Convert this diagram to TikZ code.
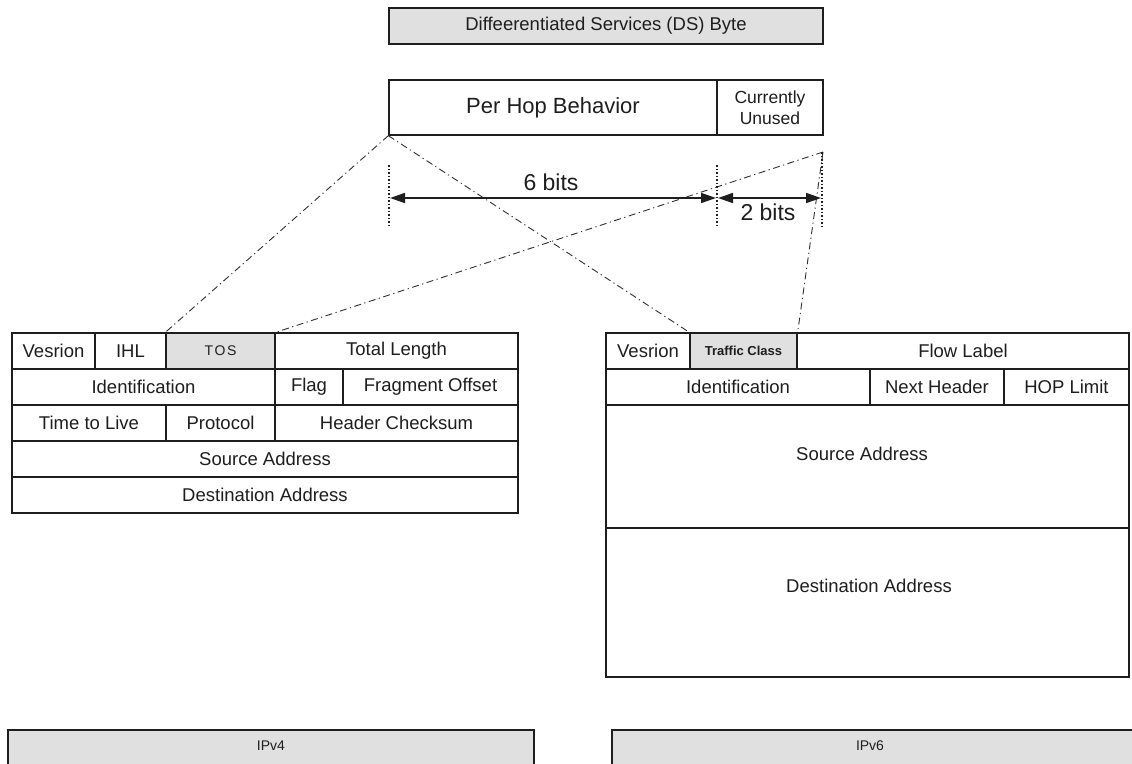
\documentclass[tikz,border=0pt]{standalone}
\usepackage{fontspec}
\setmainfont{Liberation Sans}
\usetikzlibrary{arrows.meta}
\definecolor{boxfill}{HTML}{DFE0DF}
\definecolor{inkc}{HTML}{1E1E1E}
\definecolor{guidec}{HTML}{303030}
\newcommand\pxfont[1]{\fontsize{#1}{#1}\selectfont}
% \field[options]{name}{x1}{y1}{x2}{y2}{text}: a rectangular header field
\newcommand\field[7][]{%
  \node[field,#1,minimum width={(#5-#3)*1pt},minimum height={(#6-#4)*1pt}]
    (#2) at ({(#3+#5)/2},{(#4+#6)/2}) {#7};}
\begin{document}
\begin{tikzpicture}[x=1pt,y=-1pt,
  field/.style={draw=inkc,line width=1.3pt,inner sep=0pt,text=inkc,font=\pxfont{18.5}},
  greyfield/.style={fill=boxfill},
  fieldtext/.style={inner sep=0pt,text=inkc,font=\pxfont{18.5}},
  smallbold/.style={font=\pxfont{13}\bfseries},
  guide/.style={draw=guidec,line width=0.9pt,dash pattern=on 7pt off 3.5pt on 1.2pt off 3.5pt},
  extline/.style={draw=inkc,line width=1.1pt,dash pattern=on 1.5pt off 2pt},
  dimline/.style={draw=inkc,line width=1.6pt,
    {Triangle[length=15pt,width=10pt]}-{Triangle[length=15pt,width=10pt]}},
  dimtext/.style={inner sep=0pt,text=inkc,font=\pxfont{23}}]
\useasboundingbox[fill=white] (0,0) rectangle (1132,763);
\clip (0,0) rectangle (1132,763);

% DS byte and its two parts
\field[greyfield]{ds}{389}{8}{823}{44}{Diffeerentiated Services (DS) Byte}
\field[font=\pxfont{22}]{phb}{389}{80}{717}{135}{Per Hop Behavior}
\field[align=center,font=\pxfont{17.5}]{unused}{717}{80}{823}{135}{Currently\\[3pt]Unused}

% IPv4 header
\field{v4ver}{12}{333}{95}{369}{Vesrion}
\field{v4ihl}{95}{333}{166}{369}{IHL}
\field[greyfield,font=\pxfont{14}]{v4tos}{166}{333}{275}{369}{T\kern1.5pt O\kern1.5pt S}
\field{v4len}{275}{333}{518}{369}{Total Length}
\field{v4id}{12}{369}{275}{405}{Identification}
\field{v4flag}{275}{369}{343}{405}{Flag\hspace{8pt}}
\field{v4frag}{343}{369}{518}{405}{Fragment Offset}
\field{v4ttl}{12}{405}{166}{441}{Time to Live}
\field{v4proto}{166}{405}{275}{441}{Protocol}
\field{v4chk}{275}{405}{518}{441}{Header Checksum\hspace{20pt}}
\field{v4src}{12}{441}{518}{477}{Source Address}
\field{v4dst}{12}{477}{518}{513}{Destination Address}

% IPv6 header
\field{v6ver}{606}{333}{690}{369}{Vesrion}
\field[greyfield,smallbold]{v6tc}{690}{333}{797}{369}{Traffic Class}
\field{v6flow}{797}{333}{1129}{369}{Flow Label}
\field{v6id}{606}{369}{870}{405}{Identification}
\field{v6nh}{870}{369}{1004}{405}{Next Header}
\field{v6hop}{1004}{369}{1129}{405}{HOP Limit\hspace{14pt}}
\field{v6src}{606}{405}{1129}{528}{}
\field{v6dst}{606}{528}{1129}{677}{}
\node[fieldtext] (v6srct) at (862,454) {Source Address};
\node[fieldtext] (v6dstt) at (869,586) {Destination Address};

% captions along the bottom edge
\field[greyfield]{bar4}{8}{730}{534}{800}{}
\field[greyfield]{bar6}{612}{730}{1145}{800}{}
\node[fieldtext,font=\pxfont{14}] (bar4t) at (271,746) {IPv4};
\node[fieldtext,font=\pxfont{14}] (bar6t) at (870,746) {IPv6};

% guide lines from the DS byte down to the TOS / Traffic Class fields
\coordinate (pr) at (823,152);
\draw[guide] (phb.south west) -- (v4tos.north west);
\draw[guide] (phb.south west) -- (v6tc.north west);
\draw[guide] (pr) -- (v4tos.north east);
\draw[guide] (pr) -- (v6tc.north east);

% bit-width dimensions
\coordinate (e0t) at (389,165); \coordinate (e0b) at (389,226);
\coordinate (e1t) at (717,165); \coordinate (e1b) at (717,227);
\coordinate (e2t) at (822,152); \coordinate (e2b) at (822,227);
\draw[extline] (e0t) -- (e0b);
\draw[extline] (e1t) -- (e1b);
\draw[extline] (e2t) -- (e2b);
\coordinate (d0) at (390,198);
\coordinate (d1) at (716,198);
\coordinate (d2) at (718,198);
\coordinate (d3) at (821,198);
\draw[dimline] (d0) -- (d1);
\draw[dimline] (d2) -- (d3);
\node[dimtext] (six) at (551,182) {6 bits};
\node[dimtext] (two) at (768,212) {2 bits};
\end{tikzpicture}
\end{document}
